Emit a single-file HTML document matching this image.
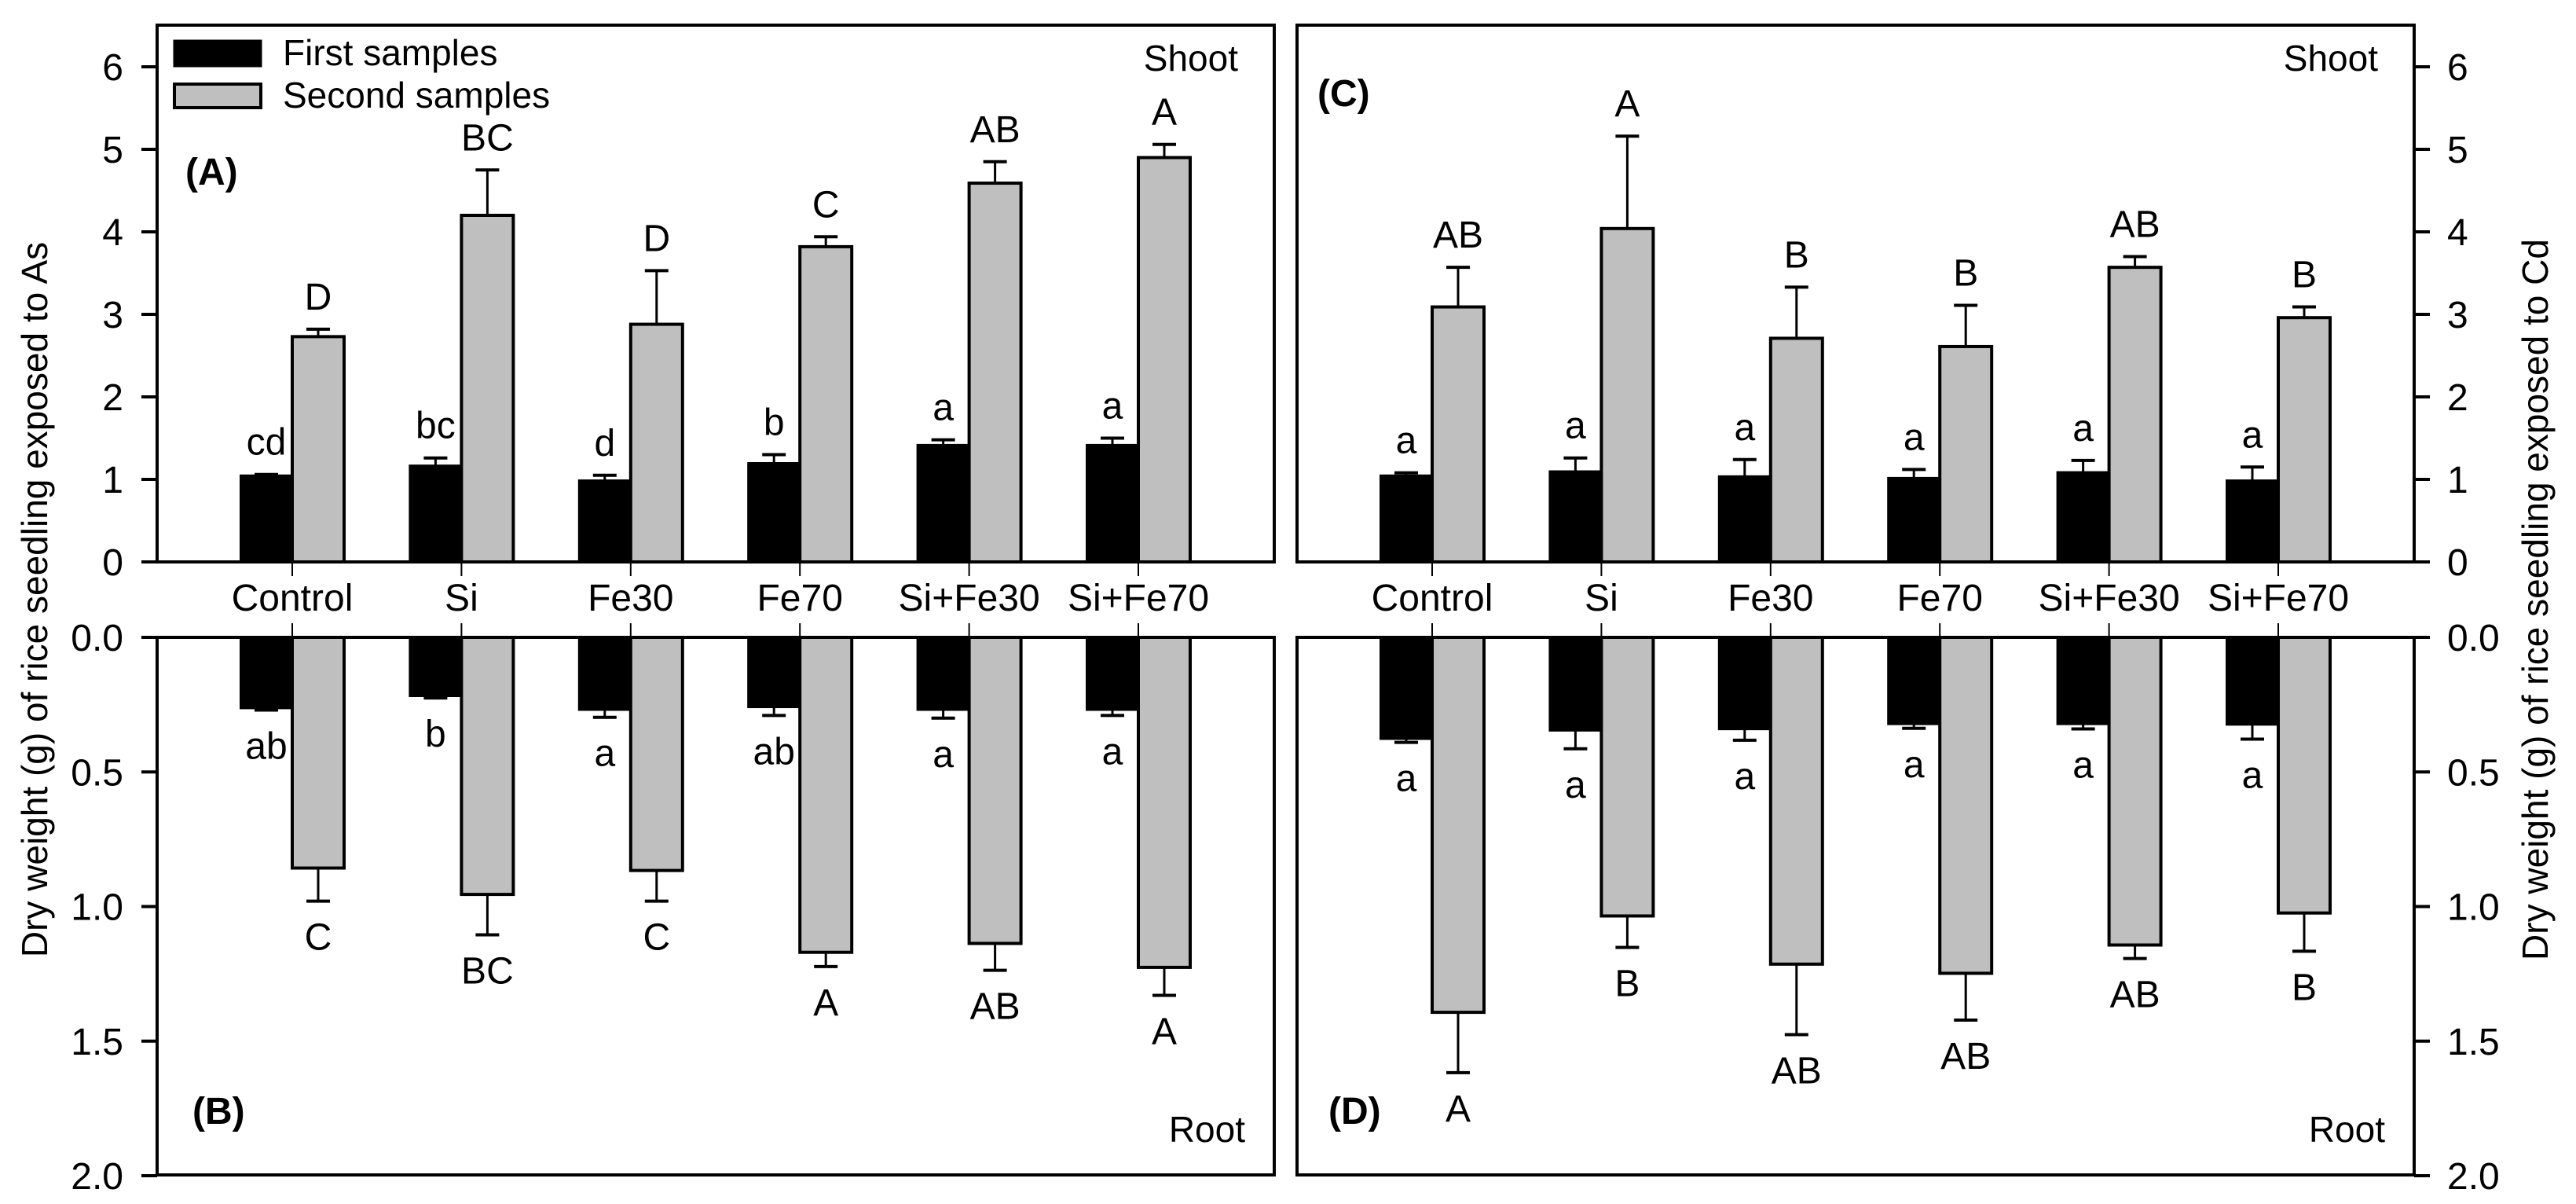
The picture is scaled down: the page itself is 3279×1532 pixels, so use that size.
<!DOCTYPE html>
<html><head><meta charset="utf-8"><style>
html,body{margin:0;padding:0;background:#fff;}
svg{display:block;font-family:"Liberation Sans",Arial,sans-serif;}
</style></head><body>
<svg id="chart" width="3279" height="1532" viewBox="0 0 3279 1532" xmlns="http://www.w3.org/2000/svg"></svg>
<script>
const categories = ["Control","Si","Fe30","Fe70","Si+Fe30","Si+Fe70"];
// Panel A (As, shoot)
const aFirst = [1.05,1.17,0.99,1.20,1.42,1.42];
const aFirstErr = [0.01,0.09,0.06,0.10,0.06,0.08];
const aSecond = [2.73,4.20,2.88,3.82,4.59,4.90];
const aSecondErr = [0.09,0.55,0.65,0.12,0.26,0.16];
const aFirstLbl = ["cd","bc","d","b","a","a"];
const aSecondLbl = ["D","BC","D","C","AB","A"];
// Panel B (As, root)
const bFirst = [0.264,0.219,0.27,0.26,0.27,0.27];
const bFirstErr = [0.006,0.006,0.027,0.03,0.03,0.02];
const bSecond = [0.857,0.955,0.866,1.17,1.137,1.226];
const bSecondErr = [0.123,0.15,0.114,0.053,0.10,0.104];
const bFirstLbl = ["ab","b","a","ab","a","a"];
const bSecondLbl = ["C","BC","C","A","AB","A"];
// Panel C (Cd, shoot)
const cFirst = [1.05,1.10,1.04,1.02,1.09,0.99];
const cFirstErr = [0.03,0.16,0.20,0.10,0.14,0.16];
const cSecond = [3.09,4.04,2.71,2.61,3.57,2.96];
const cSecondErr = [0.48,1.12,0.62,0.50,0.13,0.13];
const cFirstLbl = ["a","a","a","a","a","a"];
const cSecondLbl = ["AB","A","B","B","AB","B"];
// Panel D (Cd, root)
const dFirst = [0.378,0.347,0.342,0.323,0.323,0.325];
const dFirstErr = [0.012,0.067,0.04,0.015,0.017,0.053];
const dSecond = [1.393,1.035,1.214,1.248,1.143,1.024];
const dSecondErr = [0.224,0.117,0.262,0.174,0.05,0.142];
const dFirstLbl = ["a","a","a","a","a","a"];
const dSecondLbl = ["A","B","AB","AB","AB","B"];
const topTicks = [0,1,2,3,4,5,6];
const botTicks = ["0.0","0.5","1.0","1.5","2.0"];

const NS="http://www.w3.org/2000/svg";
const svg=document.getElementById('chart');
function el(tag,attrs,parent){const e=document.createElementNS(NS,tag);for(const k in attrs)e.setAttribute(k,attrs[k]);(parent||svg).appendChild(e);return e;}
function txt(s,x,y,size,anchor,weight,parent){const t=el('text',{x:x,y:y,'font-size':size,'text-anchor':anchor||'middle','font-weight':weight||'normal',fill:'#000'},parent);t.textContent=s;return t;}

const TOP0=715, TOPS=105, TOPY=32;
const BOT0=811, BOTS=342.5, BOTY=1495;
const yTop=v=>TOP0-v*TOPS;
const yBot=v=>BOT0+v*BOTS;
const BW=66;

function panel(px0,px1,axisSide,top,bot,tags){
  const cx=i=>px0+172+i*215.4;
  const g=el('g',{});
  
  
  function drawBars(first,fErr,second,sErr,fl,sl,ys,dir,suffix){
    for(let i=0;i<categories.length;i++){
      const c=cx(i);
      const y0=ys(0), y1=ys(first[i]), y2=ys(second[i]);
      const b=el('rect',{x:c-BW,y:Math.min(y0,y1),width:BW,height:Math.abs(y1-y0),fill:'#000',stroke:'#000','stroke-width':2},g);
      
      
      const b2=el('rect',{x:c,y:Math.min(y0,y2),width:BW,height:Math.abs(y2-y0),fill:'#bfbfbf',stroke:'#000','stroke-width':4},g);
      
      
      const e1=ys(first[i]+fErr[i]), e2=ys(second[i]+sErr[i]);
      const m1=c-BW/2, m2=c+BW/2;
      el('line',{x1:m1,y1:y1,x2:m1,y2:e1,stroke:'#000','stroke-width':3},g);
      el('line',{x1:m1-15,y1:e1,x2:m1+15,y2:e1,stroke:'#000','stroke-width':4},g);
      el('line',{x1:m2,y1:y2,x2:m2,y2:e2,stroke:'#000','stroke-width':3},g);
      el('line',{x1:m2-15,y1:e2,x2:m2+15,y2:e2,stroke:'#000','stroke-width':4},g);
      let t1,t2;
      if(dir>0){t1=txt(fl[i],m1,e1-25,48,'middle','normal',g);t2=txt(sl[i],m2,e2-25,48,'middle','normal',g);}
      else{t1=txt(fl[i],m1,e1+62,48,'middle','normal',g);t2=txt(sl[i],m2,e2+62,48,'middle','normal',g);}
      
      
      
      
    }
  }
  drawBars(top[0],top[1],top[2],top[3],top[4],top[5],yTop,1,'shoot');
  drawBars(bot[0],bot[1],bot[2],bot[3],bot[4],bot[5],yBot,-1,'root');
  el('path',{d:`M${px0},${TOP0} L${px0},${TOPY} L${px1},${TOPY} L${px1},${TOP0} Z`,fill:'none',stroke:'#000','stroke-width':4},g);
  el('path',{d:`M${px0},${BOT0} L${px0},${BOTY} L${px1},${BOTY} L${px1},${BOT0} Z`,fill:'none',stroke:'#000','stroke-width':4},g);
  for(let i=0;i<categories.length;i++){
    const c=cx(i);
    el('line',{x1:c,y1:TOP0,x2:c,y2:TOP0+18,stroke:'#000','stroke-width':2},g);
    el('line',{x1:c,y1:BOT0,x2:c,y2:BOT0-18,stroke:'#000','stroke-width':2},g);
    const t=txt(categories[i],c,777,48,'middle','normal',g);
    
    
  }
  const ax = axisSide==='left'?px0:px1;
  const d = axisSide==='left'?-1:1;
  for(const v of topTicks){
    const y=yTop(v);
    el('line',{x1:ax,y1:y,x2:ax+d*20,y2:y,stroke:'#000','stroke-width':4},g);
    const t=txt(String(v),axisSide==='left'?ax-43:ax+42,y+17,48,axisSide==='left'?'end':'start','normal',g);
    
    
  }
  for(const s of botTicks){
    const y=yBot(parseFloat(s));
    el('line',{x1:ax,y1:y,x2:ax+d*20,y2:y,stroke:'#000','stroke-width':4},g);
    const t=txt(s,axisSide==='left'?ax-43:ax+42,y+17,48,axisSide==='left'?'end':'start','normal',g);
    
    
  }
  let t=txt(tags.top,px0+(axisSide==='left'?36:26),axisSide==='left'?235:135,48,'start','bold',g);
  
  
  t=txt(tags.bot,px0+(axisSide==='left'?45:40),1430,48,'start','bold',g);
  
  
  t=txt('Shoot',px1-46,90,46,'end','normal',g);
  
  
  t=txt('Root',px1-37,1453,46,'end','normal',g);
  
  
}

panel(200,1622,'left',[aFirst,aFirstErr,aSecond,aSecondErr,aFirstLbl,aSecondLbl],[bFirst,bFirstErr,bSecond,bSecondErr,bFirstLbl,bSecondLbl],{name:'panel-as',top:'(A)',bot:'(B)'});
panel(1651,3073,'right',[cFirst,cFirstErr,cSecond,cSecondErr,cFirstLbl,cSecondLbl],[dFirst,dFirstErr,dSecond,dSecondErr,dFirstLbl,dSecondLbl],{name:'panel-cd',top:'(C)',bot:'(D)'});

const lg=el('g',{});


el('rect',{x:222,y:52,width:110,height:32,fill:'#000',stroke:'#000','stroke-width':3},lg);
el('rect',{x:222,y:107,width:110,height:30,fill:'#bfbfbf',stroke:'#000','stroke-width':4},lg);
let lt=txt('First samples',360,83,46,'start','normal',lg);


lt=txt('Second samples',360,137,46,'start','normal',lg);



let at=txt('Dry weight (g) of rice seedling exposed to As',0,0,46,'middle','normal');
at.setAttribute('transform','translate(60,763) rotate(-90)');


at=txt('Dry weight (g) of rice seedling exposed to Cd',0,0,46,'middle','normal');
at.setAttribute('transform','translate(3243,763) rotate(-90)');


</script>
</body></html>
